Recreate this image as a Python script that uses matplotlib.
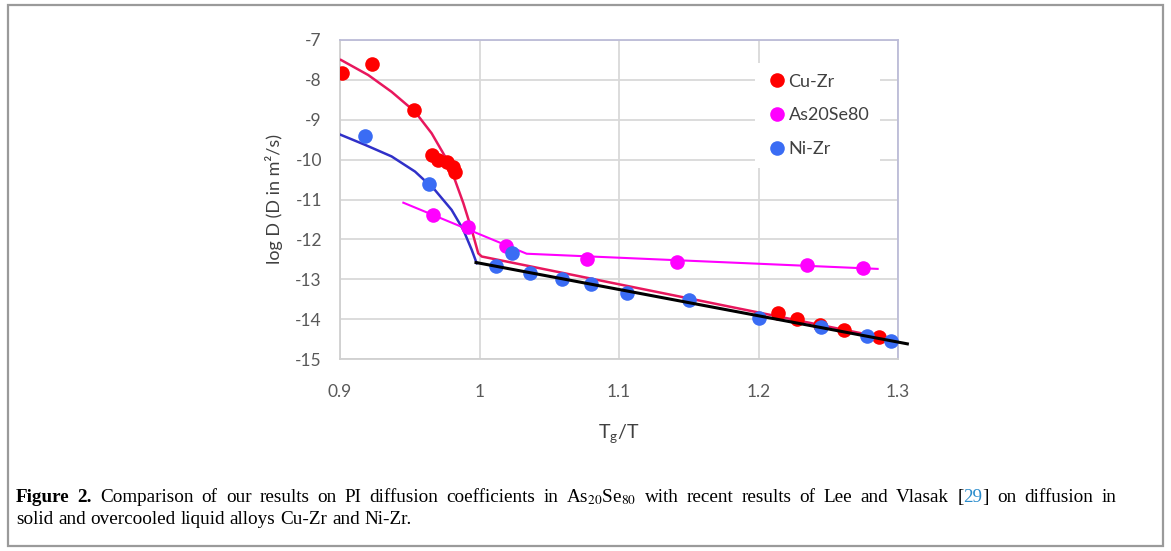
import numpy as np
import matplotlib
matplotlib.use("Agg")
import matplotlib.pyplot as plt
from matplotlib.patches import Rectangle
from matplotlib.transforms import IdentityTransform

plt.rcParams['font.family'] = ['Lato', 'DejaVu Sans']
plt.rcParams['mathtext.fontset'] = 'custom'
plt.rcParams['mathtext.rm'] = 'Lato'
plt.rcParams['mathtext.it'] = 'Lato:italic'
plt.rcParams['axes.unicode_minus'] = False

# measured points (Tg/T, log D)
cu_x = [0.9017, 0.9227, 0.9533, 0.9657, 0.9705, 0.9765, 0.9812, 0.9824,
        1.2138, 1.2274, 1.2440, 1.2610, 1.2866]
cu_y = [-7.82, -7.60, -8.75, -9.88, -10.01, -10.05, -10.18, -10.30,
        -13.85, -14.00, -14.14, -14.27, -14.45]

as_x = [0.9669, 0.9920, 1.0188, 1.0768, 1.1413, 1.2345, 1.2750]
as_y = [-11.40, -11.68, -12.16, -12.50, -12.56, -12.64, -12.72]

ni_x = [0.9180, 0.9638, 1.0118, 1.0235, 1.0360, 1.0594, 1.0797, 1.1060,
        1.1500, 1.2004, 1.2446, 1.2780, 1.2948]
ni_y = [-9.41, -10.61, -12.66, -12.33, -12.85, -13.00, -13.12, -13.35,
        -13.53, -13.96, -14.21, -14.42, -14.56]

# fitted lines
cu_fit_x = [0.9007, 0.9203, 0.937, 0.9538, 0.9657, 0.9753, 0.9824, 0.9884,
            0.9944, 0.9991, 1.0016, 1.290]
cu_fit_y = [-7.50, -7.88, -8.30, -8.80, -9.34, -9.92, -10.51, -11.09,
            -11.76, -12.35, -12.43, -14.47]

ni_fit_x = [0.900, 0.918, 0.937, 0.9538, 0.968, 0.980, 0.9884, 0.9944, 0.998]
ni_fit_y = [-9.37, -9.63, -9.92, -10.30, -10.76, -11.26, -11.76, -12.26, -12.60]

as_fit_x = [0.9454, 1.0338, 1.2854]
as_fit_y = [-11.08, -12.36, -12.74]

solid_fit_x = [0.9975, 1.3067]
solid_fit_y = [-12.58, -14.62]

fig = plt.figure(figsize=(11.71, 5.51), dpi=100)

# frame round the whole figure
fig.patches.append(Rectangle((8 / 1171, 5 / 551), 1155 / 1171, 541 / 551,
                             transform=fig.transFigure, fill=False,
                             edgecolor='#9a9a9a', linewidth=1.6))

ax = fig.add_axes([340 / 1171, 1 - 359 / 551, 558 / 1171, 319 / 551])

ax.plot(cu_fit_x, cu_fit_y, color='#e8175d', lw=1.8, zorder=3)
ax.plot(ni_fit_x, ni_fit_y, color='#3030c8', lw=1.8, zorder=3)
ax.plot(as_fit_x, as_fit_y, color='#ff00ff', lw=1.5, zorder=3)
ax.plot(solid_fit_x, solid_fit_y, color='black', lw=2.2, zorder=5, clip_on=False)

ax.plot(cu_x, cu_y, 'o', color='#ff0000', ms=10.5, mew=0, label='Cu-Zr', zorder=4)
ax.plot(as_x, as_y, 'o', color='#ff00ff', ms=10.5, mew=0, label='As20Se80', zorder=4)
ax.plot(ni_x, ni_y, 'o', color='#3a6cf4', ms=10.5, mew=0, label='Ni-Zr', zorder=4)

ax.set_xlim(0.9, 1.3)
ax.set_ylim(-15, -7)
ax.set_xticks([0.9, 1.0, 1.1, 1.2, 1.3])
ax.set_xticklabels(['0.9', '1', '1.1', '1.2', '1.3'])
ax.set_yticks(range(-15, -6))
ax.grid(True, color='#d9d9d9', lw=1.3)
ax.set_axisbelow(True)
ax.tick_params(length=0, labelsize=12.5, labelcolor='#595959')
ax.tick_params(axis='x', pad=18)
ax.tick_params(axis='y', pad=13)
for s in ['left', 'bottom']:
    ax.spines[s].set_color('#d0d0d0')
for s in ['top', 'right']:
    ax.spines[s].set_color('#bcbcd8')
for s in ax.spines.values():
    s.set_linewidth(1.3)

ax.set_ylabel('log D (D in m²/s)', fontsize=13, color='#404040', labelpad=9)
ax.set_xlabel(r'T$_\mathrm{g}$/T', fontsize=14, color='#404040', labelpad=16)

leg = ax.legend(loc='upper left', bbox_to_anchor=(0.744, 0.928), frameon=True,
                fancybox=False, edgecolor='none', framealpha=1, fontsize=13,
                handletextpad=0.05, labelspacing=0.97, borderpad=0.6,
                handlelength=1.2, borderaxespad=0)
for t in leg.get_texts():
    t.set_color('#404040')

# caption, built word by word (first line justified)
fig.canvas.draw()
renderer = fig.canvas.get_renderer()
cap_kw = dict(transform=IdentityTransform(), va='baseline', fontsize=13.8,
              family=['Liberation Serif'], math_fontfamily='stix')


def put_line(tokens, x, y, x_end=None):
    texts = []
    for s, kw, sp in tokens:
        t = fig.text(0, y, s, **cap_kw, **kw)
        texts.append((t, t.get_window_extent(renderer).width, sp))
    space = fig.text(0, y, 'a a', **cap_kw).get_window_extent(renderer).width - \
        2 * fig.text(0, y, 'a', **cap_kw).get_window_extent(renderer).width
    for t in fig.texts[-2:]:
        t.remove()
    n_gaps = sum(1 for _, _, sp in texts if sp)
    if x_end is not None and n_gaps:
        total = sum(w for _, w, _ in texts)
        space = (x_end - x - total) / n_gaps
    for t, w, sp in texts:
        if sp:
            x += space
        t.set_x(x)
        x += w


words1 = ('Comparison of our results on PI diffusion coefficients in '
          'As$_{20}$Se$_{80}$ with recent results of Lee and Vlasak').split()
line1 = [('Figure', dict(fontweight='bold'), False),
         ('2.', dict(fontweight='bold'), True)]
line1 += [(w, {}, True) for w in words1]
line1 += [('[', {}, True), ('29', dict(color='#2a8ccc'), False), (']', {}, False),
          ('on', {}, True), ('diffusion', {}, True), ('in', {}, True)]
line2 = [(w, {}, True) for w in
         'solid and overcooled liquid alloys Cu-Zr and Ni-Zr.'.split()]
line2[0] = (line2[0][0], {}, False)

put_line(line1, 16, 551 - 502, x_end=1116)
put_line(line2, 16, 551 - 524)

fig.savefig('out.png', dpi=100)
